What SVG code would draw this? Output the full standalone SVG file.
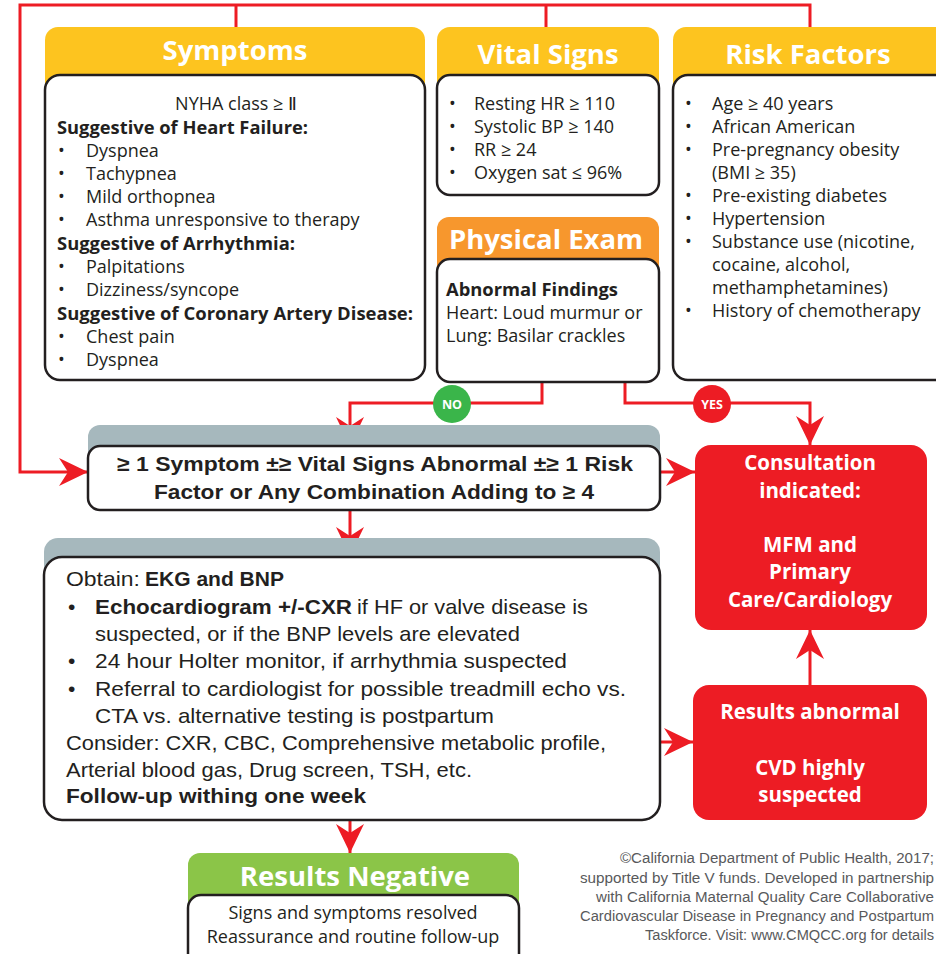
<svg xmlns="http://www.w3.org/2000/svg" width="936" height="954" viewBox="0 0 936 954">
  <style>
    .hdr { font-family: "Open Sans", "Noto Sans", "DejaVu Sans", sans-serif; font-weight: 700; font-size: 27.5px; fill: #ffffff; text-anchor: middle; }
    .body { font-family: "Open Sans", "Noto Sans", "DejaVu Sans", sans-serif; font-size: 18px; fill: #231f20; }
    .bold { font-weight: 700; }
    .card { fill: #ffffff; stroke: #231f20; stroke-width: 2.5; }
    .yellow { fill: #fdc41f; }
    .orange { fill: #f7972d; }
    .green { fill: #8bc548; }
    .band { fill: #a6b8bd; }
    .redbox { fill: #ed1c24; }
    .cond { font-family: "Liberation Sans", Arial, sans-serif; font-size: 21px; fill: #231f20; }
    .white { font-family: "Open Sans", "Noto Sans", "DejaVu Sans", sans-serif; font-weight: 700; font-size: 20.5px; fill: #ffffff; text-anchor: middle; }
    .wire { fill: none; stroke: #ed1c24; stroke-width: 3; }
    .foot { font-family: "Liberation Sans", Arial, sans-serif; font-size: 14px; fill: #58595b; text-anchor: end; }
    .tag { font-family: "Open Sans", "Noto Sans", sans-serif; font-weight: 700; font-size: 12.5px; fill: #ffffff; text-anchor: middle; }
  </style>
  <defs>
    <marker id="head" viewBox="-29 -14 29 28" refX="0" refY="0" markerWidth="29" markerHeight="28" markerUnits="userSpaceOnUse" orient="auto">
      <path d="M0,0 L-29,-14 L-20,0 L-29,14 Z" fill="#ed1c24"/>
    </marker>
  </defs>

  <rect width="936" height="954" fill="#ffffff"/>

  <!-- connectors -->
  <g id="connectors">
    <path class="wire" d="M810,28 V5 H20 V472 H88" marker-end="url(#head)"/>
    <path class="wire" d="M236,5 V28"/>
    <path class="wire" d="M546,5 V28"/>
    <path class="wire" d="M542,382 V403 H350 V446" marker-end="url(#head)"/>
    <path class="wire" d="M625,382 V403 H810 V445" marker-end="url(#head)"/>
    <path class="wire" d="M660,472 H695" marker-end="url(#head)"/>
    <path class="wire" d="M350,510 V556" marker-end="url(#head)"/>
    <path class="wire" d="M660,742 H693" marker-end="url(#head)"/>
    <path class="wire" d="M810,685 V630" marker-end="url(#head)"/>
    <path class="wire" d="M350,820 V853" marker-end="url(#head)"/>
    <g id="no-tag">
      <circle cx="452" cy="404" r="19" fill="#3ab54a"/>
      <text class="tag" x="452" y="409">NO</text>
    </g>
    <g id="yes-tag">
      <circle cx="712" cy="404" r="19" fill="#ed1c24"/>
      <text class="tag" x="712" y="409">YES</text>
    </g>
  </g>

  <!-- Symptoms -->
  <g id="symptoms">
    <rect class="yellow" x="45" y="27" width="380" height="70" rx="13"/>
    <text class="hdr" x="235" y="60">Symptoms</text>
    <rect class="card" x="45" y="75" width="380" height="305" rx="15"/>
    <g class="body">
      <text x="236" y="110" text-anchor="middle">NYHA class ≥ Ⅱ</text>
      <text x="57" y="134" class="bold" textLength="251" lengthAdjust="spacingAndGlyphs">Suggestive of Heart Failure:</text>
      <text x="58" y="157">•</text><text x="86" y="157">Dyspnea</text>
      <text x="58" y="180">•</text><text x="86" y="180">Tachypnea</text>
      <text x="58" y="203">•</text><text x="86" y="203">Mild orthopnea</text>
      <text x="58" y="226">•</text><text x="86" y="226">Asthma unresponsive to therapy</text>
      <text x="57" y="250" class="bold" textLength="238" lengthAdjust="spacingAndGlyphs">Suggestive of Arrhythmia:</text>
      <text x="58" y="273">•</text><text x="86" y="273">Palpitations</text>
      <text x="58" y="296">•</text><text x="86" y="296">Dizziness/syncope</text>
      <text x="57" y="320" class="bold" textLength="356" lengthAdjust="spacingAndGlyphs">Suggestive of Coronary Artery Disease:</text>
      <text x="58" y="343">•</text><text x="86" y="343">Chest pain</text>
      <text x="58" y="366">•</text><text x="86" y="366">Dyspnea</text>
    </g>
  </g>

  <!-- Vital Signs -->
  <g id="vital-signs">
    <rect class="yellow" x="437" y="27" width="222" height="70" rx="13"/>
    <text class="hdr" x="548" y="64">Vital Signs</text>
    <rect class="card" x="437" y="75" width="222" height="120" rx="13"/>
    <g class="body">
      <text x="449" y="110">•</text><text x="474" y="110">Resting HR ≥ 110</text>
      <text x="449" y="133">•</text><text x="474" y="133">Systolic BP ≥ 140</text>
      <text x="449" y="156">•</text><text x="474" y="156">RR ≥ 24</text>
      <text x="449" y="179">•</text><text x="474" y="179">Oxygen sat ≤ 96%</text>
    </g>
  </g>

  <!-- Risk Factors -->
  <g id="risk-factors">
    <rect class="yellow" x="673" y="27" width="290" height="70" rx="13"/>
    <text class="hdr" x="808" y="64">Risk Factors</text>
    <rect class="card" x="673" y="75" width="290" height="305" rx="15"/>
    <g class="body">
      <text x="685" y="110">•</text><text x="712" y="110">Age ≥ 40 years</text>
      <text x="685" y="133">•</text><text x="712" y="133">African American</text>
      <text x="685" y="156">•</text><text x="712" y="156">Pre-pregnancy obesity</text>
      <text x="712" y="179">(BMI ≥ 35)</text>
      <text x="685" y="202">•</text><text x="712" y="202">Pre-existing diabetes</text>
      <text x="685" y="225">•</text><text x="712" y="225">Hypertension</text>
      <text x="685" y="248">•</text><text x="712" y="248">Substance use (nicotine,</text>
      <text x="712" y="271">cocaine, alcohol,</text>
      <text x="712" y="294">methamphetamines)</text>
      <text x="685" y="317">•</text><text x="712" y="317">History of chemotherapy</text>
    </g>
  </g>

  <!-- Physical Exam -->
  <g id="physical-exam">
    <rect class="orange" x="437" y="217" width="222" height="62" rx="12"/>
    <text class="hdr" x="546" y="249">Physical Exam</text>
    <rect class="card" x="437" y="259" width="222" height="123" rx="13"/>
    <g class="body">
      <text x="446" y="296" class="bold" textLength="172" lengthAdjust="spacingAndGlyphs">Abnormal Findings</text>
      <text x="446" y="319">Heart: Loud murmur or</text>
      <text x="446" y="342">Lung: Basilar crackles</text>
    </g>
  </g>

  <!-- Criteria -->
  <g id="criteria">
    <rect class="band" x="88" y="425" width="572" height="45" rx="12"/>
    <rect class="card" x="88" y="446" width="572" height="64" rx="12"/>
    <text class="cond bold" x="117" y="471" textLength="516" lengthAdjust="spacingAndGlyphs">≥ 1 Symptom ±≥ Vital Signs Abnormal ±≥ 1 Risk</text>
    <text class="cond bold" x="154" y="499" textLength="440" lengthAdjust="spacingAndGlyphs">Factor or Any Combination Adding to ≥ 4</text>
  </g>

  <!-- Workup -->
  <g id="workup">
    <rect class="band" x="44" y="538" width="616" height="50" rx="14"/>
    <rect class="card" x="44" y="557" width="616" height="263" rx="18"/>
    <text class="cond" x="66" y="586" textLength="74" lengthAdjust="spacingAndGlyphs">Obtain:</text>
    <text class="cond bold" x="145" y="586" textLength="139" lengthAdjust="spacingAndGlyphs">EKG and BNP</text>
    <text class="cond" x="68" y="614">•</text>
    <text class="cond bold" x="95" y="614" textLength="257" lengthAdjust="spacingAndGlyphs">Echocardiogram +/-CXR</text>
    <text class="cond" x="357" y="614" textLength="231" lengthAdjust="spacingAndGlyphs">if HF or valve disease is</text>
    <text class="cond" x="95" y="641" textLength="425" lengthAdjust="spacingAndGlyphs">suspected, or if the BNP levels are elevated</text>
    <text class="cond" x="68" y="668">•</text>
    <text class="cond" x="95" y="668" textLength="472" lengthAdjust="spacingAndGlyphs">24 hour Holter monitor, if arrhythmia suspected</text>
    <text class="cond" x="68" y="696">•</text>
    <text class="cond" x="95" y="696" textLength="531" lengthAdjust="spacingAndGlyphs">Referral to cardiologist for possible treadmill echo vs.</text>
    <text class="cond" x="95" y="723" textLength="399" lengthAdjust="spacingAndGlyphs">CTA vs. alternative testing is postpartum</text>
    <text class="cond" x="66" y="750" textLength="540" lengthAdjust="spacingAndGlyphs">Consider: CXR, CBC, Comprehensive metabolic profile,</text>
    <text class="cond" x="66" y="777" textLength="406" lengthAdjust="spacingAndGlyphs">Arterial blood gas, Drug screen, TSH, etc.</text>
    <text class="cond bold" x="66" y="803" textLength="300" lengthAdjust="spacingAndGlyphs">Follow-up withing one week</text>
  </g>

  <!-- Consultation -->
  <g id="consultation">
    <rect class="redbox" x="695" y="445" width="232" height="185" rx="16"/>
    <text class="white" x="810" y="470">Consultation</text>
    <text class="white" x="810" y="498">indicated:</text>
    <text class="white" x="810" y="552">MFM and</text>
    <text class="white" x="810" y="579">Primary</text>
    <text class="white" x="810" y="607">Care/Cardiology</text>
  </g>

  <!-- Results abnormal -->
  <g id="results-abnormal">
    <rect class="redbox" x="693" y="685" width="234" height="135" rx="16"/>
    <text class="white" x="810" y="719">Results abnormal</text>
    <text class="white" x="810" y="775">CVD highly</text>
    <text class="white" x="810" y="802">suspected</text>
  </g>

  <!-- Results Negative -->
  <g id="results-negative">
    <rect class="green" x="188" y="853" width="331" height="60" rx="12"/>
    <text class="hdr" x="355" y="886">Results Negative</text>
    <rect class="card" x="188" y="895" width="331" height="75" rx="13"/>
    <text class="body" x="353" y="919" text-anchor="middle">Signs and symptoms resolved</text>
    <text class="body" x="353" y="943" text-anchor="middle">Reassurance and routine follow-up</text>
  </g>

  <!-- Credit -->
  <g id="credit">
    <text class="foot" x="934" y="863" textLength="314" lengthAdjust="spacingAndGlyphs">©California Department of Public Health, 2017;</text>
    <text class="foot" x="934" y="883" textLength="354" lengthAdjust="spacingAndGlyphs">supported by Title V funds. Developed in partnership</text>
    <text class="foot" x="934" y="902" textLength="338" lengthAdjust="spacingAndGlyphs">with California Maternal Quality Care Collaborative</text>
    <text class="foot" x="934" y="921" textLength="354" lengthAdjust="spacingAndGlyphs">Cardiovascular Disease in Pregnancy and Postpartum</text>
    <text class="foot" x="934" y="940" textLength="289" lengthAdjust="spacingAndGlyphs">Taskforce. Visit: www.CMQCC.org for details</text>
  </g>
</svg>
